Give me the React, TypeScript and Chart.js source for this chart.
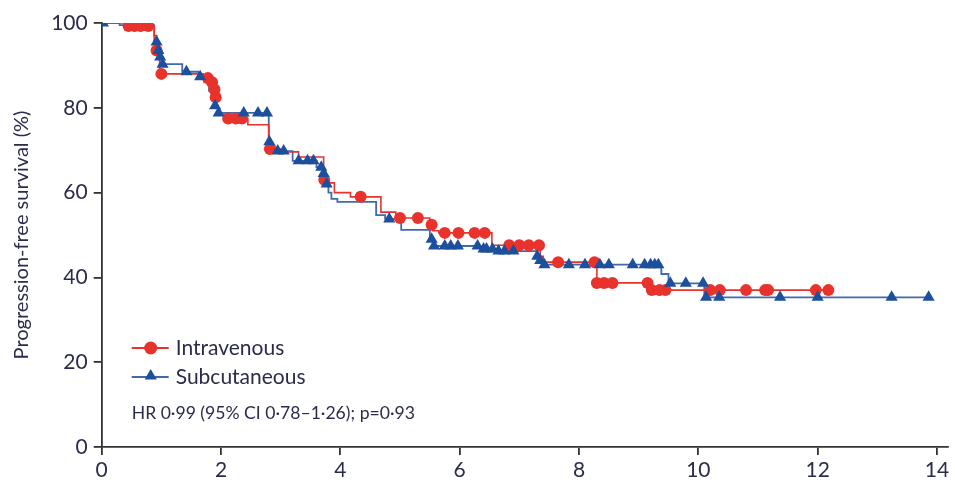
import React, { useEffect, useRef } from "react";
import { Chart, registerables } from "chart.js";

Chart.register(...registerables);

// Kaplan-Meier step points (time in years, survival %)
const ivStepTimes = [0, 0.4, 0.88, 0.92, 0.97, 1.7, 1.83, 1.88, 1.9, 1.93, 1.97, 2.1, 2.45, 2.8, 2.82, 3.0, 3.3, 3.72, 3.75, 3.8, 3.9, 4.17, 4.68, 4.93, 5.5, 5.55, 5.65, 6.54, 7.35, 7.4, 8.3, 9.18, 12.23];
const ivStepSurv = [100, 99.3, 95, 93.5, 88, 87, 86, 84.3, 82.5, 80, 78.3, 77.5, 76, 72, 70.3, 69.6, 68.4, 65, 63, 62.3, 60, 59, 55.4, 54, 52.4, 51, 50.5, 47.6, 45, 43.6, 38.7, 37, 37];

const scStepTimes = [0, 0.3, 0.88, 0.92, 0.95, 0.98, 1.02, 1.35, 1.62, 1.72, 1.8, 1.85, 1.9, 1.95, 2.8, 2.83, 2.9, 3.2, 3.6, 3.7, 3.75, 3.8, 3.85, 3.95, 4.6, 4.75, 5.02, 5.5, 5.55, 6.35, 6.6, 7.3, 7.35, 7.4, 9.38, 9.5, 10.1, 13.86];
const scStepSurv = [100, 99.5, 97, 95.5, 93.5, 92, 90.3, 88.5, 87.3, 86, 84, 82, 80.5, 78.8, 72, 71, 69.8, 67.5, 66, 64.5, 62, 60, 58.5, 57.8, 54.7, 53.8, 51.2, 49, 47.4, 46.7, 46.2, 45, 44, 43, 40.8, 38.6, 35.3, 35.3];

// Censoring marks
const ivCensorTimes = [0.45, 0.55, 0.65, 0.78, 0.92, 1.0, 1.78, 1.85, 1.89, 1.91, 2.12, 2.25, 2.35, 2.82, 3.73, 4.34, 5.0, 5.3, 5.53, 5.75, 5.98, 6.25, 6.42, 6.83, 7.0, 7.16, 7.33, 7.65, 8.26, 8.3, 8.42, 8.56, 9.15, 9.22, 9.35, 9.45, 10.2, 10.36, 10.8, 11.12, 11.17, 11.97, 12.18];
const ivCensorSurv = [99.3, 99.3, 99.3, 99.3, 93.5, 88, 87, 86, 84.3, 82.5, 77.5, 77.5, 77.5, 70.3, 63, 59, 54, 54, 52.4, 50.5, 50.5, 50.5, 50.5, 47.6, 47.6, 47.6, 47.6, 43.6, 43.6, 38.7, 38.7, 38.7, 38.7, 37, 37, 37, 37, 37, 37, 37, 37, 37, 37];

const scCensorTimes = [0.02, 0.92, 0.95, 0.98, 1.02, 1.42, 1.65, 1.9, 1.96, 2.38, 2.62, 2.77, 2.81, 2.95, 3.05, 3.3, 3.45, 3.55, 3.68, 3.72, 3.77, 4.82, 5.53, 5.57, 5.75, 5.85, 5.97, 6.3, 6.4, 6.45, 6.55, 6.65, 6.75, 6.9, 7.3, 7.35, 7.42, 7.83, 8.1, 8.35, 8.5, 8.9, 9.1, 9.2, 9.27, 9.33, 9.53, 9.79, 10.08, 10.13, 10.35, 11.37, 12.0, 13.24, 13.86];
const scCensorSurv = [100, 95.5, 93.5, 92, 90.3, 88.5, 87.3, 80.5, 78.8, 78.8, 78.8, 78.8, 72, 69.8, 69.8, 67.5, 67.5, 67.5, 66, 64.5, 62, 53.8, 49, 47.4, 47.4, 47.4, 47.4, 47.4, 46.7, 46.7, 46.7, 46.2, 46.2, 46.2, 45, 44, 43, 43, 43, 43, 43, 43, 43, 43, 43, 43, 38.6, 38.6, 38.6, 35.3, 35.3, 35.3, 35.3, 35.3, 35.3];

const xTicks = [0, 2, 4, 6, 8, 10, 12, 14];
const yTicks = [0, 20, 40, 60, 80, 100];

const seriesLabels = ["Intravenous", "Subcutaneous"];
const yTitle = "Progression-free survival (%)";
const hrText = "HR 0·99 (95% CI 0·78–1·26); p=0·93";

const RED = "#e8322b";
const BLUE_LINE = "#4169ad";
const BLUE_MARK = "#1c4f9c";
const TEXT = "#2b2c4c";
const AXIS = "#333333";
const FONT = "Lato, 'Open Sans', sans-serif";

const toPts = (xs: number[], ys: number[]) => xs.map((x, i) => ({ x, y: ys[i] }));

function drawTriangle(ctx: CanvasRenderingContext2D, x: number, y: number, r: number) {
  ctx.beginPath();
  let rad = 0;
  ctx.moveTo(x + Math.sin(rad) * r, y - Math.cos(rad) * r);
  rad += (2 * Math.PI) / 3;
  ctx.lineTo(x + Math.sin(rad) * r, y - Math.cos(rad) * r);
  rad += (2 * Math.PI) / 3;
  ctx.lineTo(x + Math.sin(rad) * r, y - Math.cos(rad) * r);
  ctx.closePath();
  ctx.fill();
}

const legendPlugin = {
  id: "kmLegend",
  afterDraw(chart: any) {
    const { ctx, chartArea } = chart;
    const left = chartArea.left + 30;
    const bottom = chartArea.bottom;
    ctx.save();
    ctx.font = `21px ${FONT}`;
    ctx.textBaseline = "middle";
    ctx.textAlign = "left";
    // IV
    let y = bottom - 99;
    ctx.strokeStyle = RED;
    ctx.lineWidth = 1.8;
    ctx.beginPath();
    ctx.moveTo(left, y);
    ctx.lineTo(left + 37, y);
    ctx.stroke();
    ctx.fillStyle = RED;
    ctx.beginPath();
    ctx.arc(left + 19, y, 6.5, 0, Math.PI * 2);
    ctx.fill();
    ctx.fillStyle = TEXT;
    ctx.fillText(seriesLabels[0], left + 44, y);
    // SC
    y = bottom - 70;
    ctx.strokeStyle = BLUE_LINE;
    ctx.beginPath();
    ctx.moveTo(left, y);
    ctx.lineTo(left + 37, y);
    ctx.stroke();
    ctx.fillStyle = BLUE_MARK;
    drawTriangle(ctx, left + 19, y - 1, 7);
    ctx.fillStyle = TEXT;
    ctx.fillText(seriesLabels[1], left + 44, y);
    // HR
    y = bottom - 34;
    ctx.font = `17.6px ${FONT}`;
    ctx.fillText(hrText, left, y);
    ctx.restore();
  },
};

export default function App() {
  const ref = useRef<HTMLCanvasElement>(null);
  useEffect(() => {
    if (!ref.current) return;
    const chart = new Chart(ref.current, {
      type: "line",
      data: {
        datasets: [
          {
            type: "scatter",
            label: seriesLabels[1] + " censored",
            data: toPts(scCensorTimes, scCensorSurv),
            pointStyle: "triangle",
            pointRadius: 7,
            backgroundColor: BLUE_MARK,
            borderWidth: 0,
            showLine: false,
          } as any,
          {
            type: "scatter",
            label: seriesLabels[0] + " censored",
            data: toPts(ivCensorTimes, ivCensorSurv),
            pointStyle: "circle",
            pointRadius: 6,
            backgroundColor: RED,
            borderWidth: 0,
            showLine: false,
          } as any,
          {
            label: seriesLabels[0],
            data: toPts(ivStepTimes, ivStepSurv),
            stepped: true,
            borderColor: RED,
            borderWidth: 1.6,
            pointRadius: 0,
            fill: false,
          },
          {
            label: seriesLabels[1],
            data: toPts(scStepTimes, scStepSurv),
            stepped: true,
            borderColor: BLUE_LINE,
            borderWidth: 1.8,
            pointRadius: 0,
            fill: false,
          },
        ],
      },
      options: {
        responsive: false,
        animation: false,
        layout: { padding: { top: 23, right: 0, left: 0, bottom: 0 } },
        plugins: {
          legend: { display: false },
          tooltip: { enabled: false },
        },
        scales: {
          x: {
            type: "linear",
            min: 0,
            max: 14.185,
            afterBuildTicks: (s: any) => {
              s.ticks = xTicks.map((v) => ({ value: v }));
            },
            afterFit: (s: any) => {
              s.height = 35;
            },
            grid: { display: true, drawOnChartArea: false, drawTicks: true, tickLength: 8, color: AXIS, lineWidth: 1.8 },
            border: { display: true, color: AXIS, width: 1.8 },
            ticks: { color: TEXT, font: { family: FONT, size: 21 }, padding: 3, maxRotation: 0 },
          },
          y: {
            type: "linear",
            min: 0,
            max: 100,
            afterBuildTicks: (s: any) => {
              s.ticks = yTicks.map((v) => ({ value: v }));
            },
            afterFit: (s: any) => {
              s.width = 101.7;
            },
            grid: { display: true, drawOnChartArea: false, drawTicks: true, tickLength: 8, color: AXIS, lineWidth: 1.8 },
            border: { display: true, color: AXIS, width: 1.8 },
            ticks: { color: TEXT, font: { family: FONT, size: 21 }, padding: 6 },
            title: {
              display: true,
              text: yTitle,
              color: TEXT,
              font: { family: FONT, size: 20 },
              padding: { top: 10, bottom: 0 },
            },
          },
        },
      },
      plugins: [legendPlugin],
    });
    return () => chart.destroy();
  }, []);
  return (
    <div style={{ position: "absolute", left: 0, top: 0, width: 955, height: 482, background: "#fff" }}>
      <canvas ref={ref} width={955} height={482} style={{ display: "block" }} />
    </div>
  );
}
